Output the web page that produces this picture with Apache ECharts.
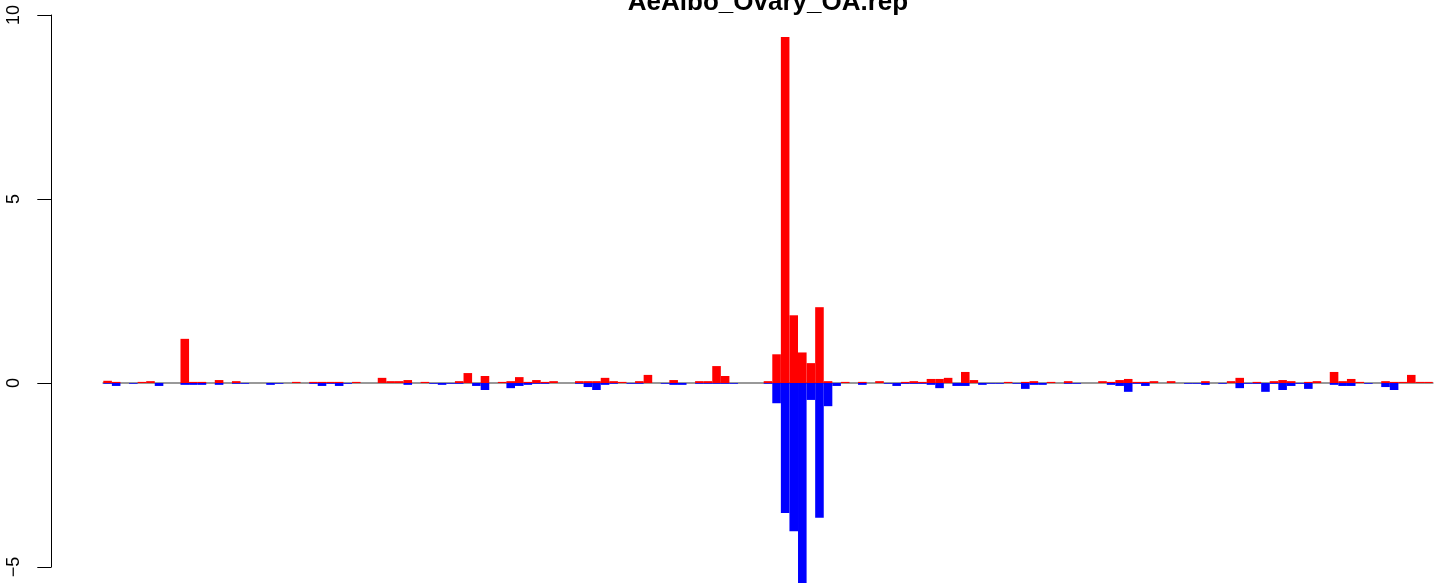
<!DOCTYPE html>
<html>
<head>
<meta charset="utf-8">
<script src="https://cdn.jsdelivr.net/npm/echarts@6/dist/echarts.min.js"></script>
<style>
html,body{margin:0;padding:0;background:#fff;}
#chart{width:1441px;height:583px;}
</style>
</head>
<body>
<div id="chart"></div>
<script>
var titleText = 'AeAlbo_Ovary_OA.rep';
var yTicks = [-5, 0, 5, 10];

var posValues = [
0.06,0.03,0,0,0.03,0.05,0,0,0,1.2,
0.03,0.03,0,0.08,0,0.05,0,0,0,0,
0,0,0.03,0,0.03,0.03,0.03,0.03,0,0.03,
0,0,0.14,0.05,0.05,0.08,0,0.03,0,0,
0,0.05,0.27,0,0.19,0,0.03,0.05,0.16,0.03,
0.08,0.03,0.05,0,0,0.05,0.05,0.05,0.14,0.05,
0.03,0,0.05,0.22,0,0,0.08,0,0,0.05,
0.05,0.46,0.19,0,0,0,0,0.05,0.78,9.4,
1.84,0.83,0.54,2.06,0.05,0,0.03,0,0.03,0,
0.05,0,0,0.03,0.05,0.03,0.11,0.11,0.14,0,
0.30,0.08,0,0,0,0.03,0,0.03,0.05,0,
0.03,0,0.05,0,0,0,0.05,0.03,0.08,0.11,
0.03,0.03,0.05,0,0.05,0,0,0,0.05,0,
0,0.05,0.14,0,0.03,0,0.05,0.08,0.05,0,
0.03,0.05,0,0.30,0.05,0.11,0.03,0,0,0.05,
0.03,0.03,0.22,0.03,0.03
];

var negValues = [
-0.02,-0.08,0,-0.02,0,0,-0.08,0,0,-0.05,
-0.05,-0.05,0,-0.05,0,-0.02,-0.02,0,0,-0.05,
-0.02,0,0,0,-0.02,-0.08,-0.02,-0.08,-0.02,0,
0,0,0,0,0,-0.05,0,0,-0.02,-0.05,
-0.02,-0.02,0,-0.08,-0.19,0,0,-0.14,-0.08,-0.05,
-0.02,-0.02,0,0,0,-0.02,-0.11,-0.19,-0.05,-0.02,
0,-0.02,-0.02,0,0,-0.02,-0.05,-0.05,0,-0.02,
-0.02,-0.02,-0.02,-0.02,0,0,0,-0.02,-0.55,-3.53,
-4.03,-6.0,-0.46,-3.66,-0.63,-0.08,0,0,-0.05,0,
0,-0.02,-0.08,-0.02,-0.02,-0.02,-0.05,-0.14,0,-0.08,
-0.08,0,-0.05,-0.02,-0.02,0,-0.02,-0.16,-0.05,-0.05,
0,0,-0.02,-0.02,0,0,0,-0.05,-0.08,-0.24,
-0.02,-0.08,0,0,0,0,-0.02,-0.02,-0.05,0,
-0.02,0,-0.14,-0.02,-0.02,-0.24,-0.02,-0.19,-0.08,-0.02,
-0.16,0,0,-0.05,-0.08,-0.08,0,-0.02,0,-0.11,
-0.19,0,0,0,0
];

var categories = posValues.map(function(_, i){ return String(i + 1); });

var chart = echarts.init(document.getElementById('chart'), null, {renderer:'canvas'});
var fontFam = '"Liberation Sans", Arial, Helvetica, sans-serif';
chart.setOption({
  animation: false,
  backgroundColor: '#ffffff',
  title: {
    text: titleText,
    left: 768,
    textAlign: 'center',
    top: -10,
    padding: 0,
    textStyle: {fontFamily: fontFam, fontSize: 26, fontWeight: 'bold', color: '#000', lineHeight: 26}
  },
  grid: {left: 103.3, right: 8.3, top: 15, bottom: 16, containLabel: false},
  xAxis: {
    type: 'category',
    data: categories,
    axisLine: {show: true, onZero: true, lineStyle: {color: '#999999', width: 2}},
    axisTick: {show: false},
    axisLabel: {show: false},
    splitLine: {show: false}
  },
  yAxis: {
    type: 'value',
    min: yTicks[0],
    max: yTicks[yTicks.length - 1],
    interval: 5,
    offset: 52,
    axisLine: {show: true, lineStyle: {color: '#000', width: 1}},
    axisTick: {show: true, length: 14, lineStyle: {color: '#000', width: 1}},
    axisLabel: {
      show: true, rotate: 90, margin: 28, fontSize: 18, color: '#000', fontFamily: fontFam,
      formatter: function(v){ return String(v).replace('-', '\u2212'); }
    },
    splitLine: {show: false}
  },
  series: [
    {
      type: 'bar',
      name: 'pos',
      data: posValues,
      barGap: '-100%',
      barCategoryGap: 0,
      clip: false,
      itemStyle: {color: '#ff0000'}
    },
    {
      type: 'bar',
      name: 'neg',
      data: negValues,
      barGap: '-100%',
      barCategoryGap: 0,
      clip: false,
      itemStyle: {color: '#0000ff'}
    }
  ]
});
</script>
</body>
</html>
